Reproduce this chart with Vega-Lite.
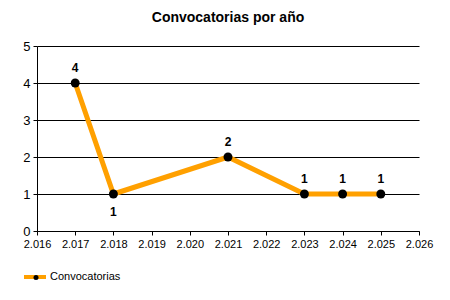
{
  "$schema": "https://vega.github.io/schema/vega-lite/v6.json",
  "autosize": {"type": "none"},
  "width": 382,
  "height": 185,
  "padding": {"left": 37, "top": 46, "right": 31, "bottom": 69},
  "background": "white",
  "title": {"text": "Convocatorias por año", "font": "Liberation Sans", "fontSize": 14, "fontWeight": "bold", "color": "black", "anchor": "middle", "offset": 15},
  "data": {"values": [
    {"year": 2017, "n": 4, "serie": "Convocatorias"},
    {"year": 2018, "n": 1, "serie": "Convocatorias"},
    {"year": 2021, "n": 2, "serie": "Convocatorias"},
    {"year": 2023, "n": 1, "serie": "Convocatorias"},
    {"year": 2024, "n": 1, "serie": "Convocatorias"},
    {"year": 2025, "n": 1, "serie": "Convocatorias"}
  ]},
  "encoding": {
    "x": {"field": "year", "type": "quantitative", "scale": {"domain": [2016, 2026], "nice": false, "zero": false},
      "axis": {"values": [2016,2017,2018,2019,2020,2021,2022,2023,2024,2025,2026], "title": null, "grid": false, "labelOverlap": false, "labelFlush": false, "labelBound": false,
        "labelExpr": "replace(format(datum.value, ','), ',', '.')", "domainColor": "black", "tickColor": "black", "tickSize": 4,
        "labelFont": "Liberation Sans", "labelFontSize": 11, "labelColor": "black", "labelPadding": 3}},
    "y": {"field": "n", "type": "quantitative", "scale": {"domain": [0, 5], "nice": false},
      "axis": {"values": [0,1,2,3,4,5], "title": null, "grid": true, "gridColor": "black", "gridOpacity": 1, "labelFlush": false,
        "domainColor": "black", "tickColor": "black", "tickSize": 4,
        "labelFont": "Liberation Sans", "labelFontSize": 13, "labelColor": "black", "labelPadding": 3}}
  },
  "layer": [
    {"mark": {"type": "line", "strokeWidth": 5, "strokeJoin": "miter"},
      "encoding": {"color": {"field": "serie", "type": "nominal", "scale": {"range": ["#FFA000"]},
        "legend": {"title": null, "orient": "none", "legendX": -15, "legendY": 218, "symbolType": "stroke", "symbolStrokeWidth": 4, "symbolSize": 484, "labelOffset": 2,
          "labelFont": "Liberation Sans", "labelFontSize": 11, "labelColor": "black"}}}},
    {"mark": {"type": "point", "filled": true, "size": 80, "opacity": 1, "strokeWidth": 0},
      "encoding": {"fill": {"field": "serie", "type": "nominal", "scale": {"domain": ["Convocatorias"], "range": ["black"]},
        "legend": {"title": null, "orient": "none", "legendX": -6.5, "legendY": 226, "symbolType": "circle", "symbolSize": 25, "symbolStrokeWidth": 0, "labelExpr": "''",
          "labelFont": "Liberation Sans", "labelFontSize": 11}}}},
    {"transform": [{"filter": "datum.year != 2018"}],
      "mark": {"type": "text", "dy": -15, "font": "Liberation Sans", "fontSize": 12, "fontWeight": "bold", "color": "black"},
      "encoding": {"text": {"field": "n", "type": "quantitative"}}},
    {"transform": [{"filter": "datum.year == 2018"}],
      "mark": {"type": "text", "dy": 18, "font": "Liberation Sans", "fontSize": 12, "fontWeight": "bold", "color": "black"},
      "encoding": {"text": {"field": "n", "type": "quantitative"}}}
  ],
  "config": {"view": {"stroke": null}}
}
